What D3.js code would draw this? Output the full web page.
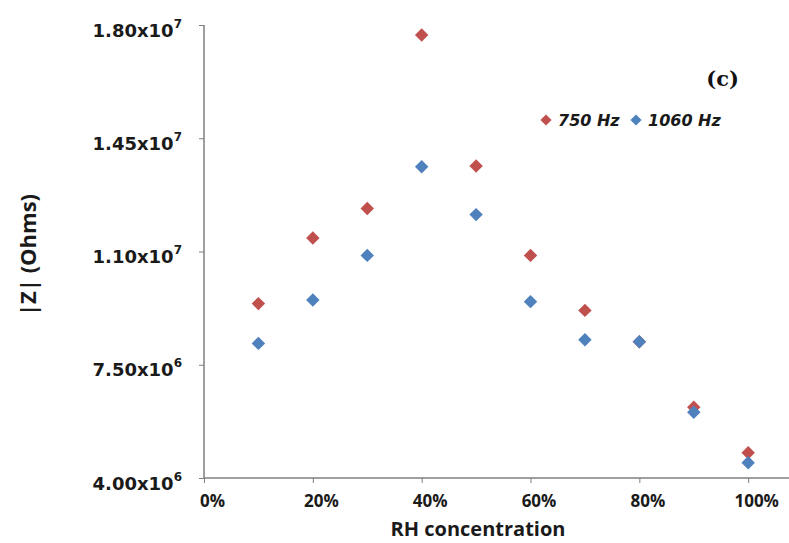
<!DOCTYPE html>
<html>
<head>
<meta charset="utf-8">
<script src="https://cdn.jsdelivr.net/npm/d3@7"></script>
<style>
  body { margin: 0; background: #fff; }
  svg { display: block; }
</style>
</head>
<body>
<div id="app"></div>
<script>
// RH concentration (fraction) and |Z| values
const rh = [0.1, 0.2, 0.3, 0.4, 0.5, 0.6, 0.7, 0.8, 0.9, 1.0];
const z750 = [9.39e6, 1.142e7, 1.233e7, 1.769e7, 1.364e7, 1.088e7, 9.18e6, 8.21e6, 6.19e6, 4.78e6];
const z1060 = [8.16e6, 9.50e6, 1.088e7, 1.362e7, 1.214e7, 9.45e6, 8.27e6, 8.21e6, 6.03e6, 4.47e6];

const seriesNames = ["750 Hz", "1060 Hz"];
const seriesColors = ["#C0504D", "#4F81BD"];

const yTicks = [4.0e6, 7.5e6, 1.1e7, 1.45e7, 1.8e7];
const xTicks = [0, 0.2, 0.4, 0.6, 0.8, 1.0];

let width = 789, height = 543;

let svg = d3.select("#app").append("svg")
  .attr("width", width).attr("height", height);

let x = d3.scaleLinear().domain([0, 1.075]).range([204, 789]);
let y = d3.scaleLinear().domain([4.0e6, 1.8e7]).range([478, 25]);

const axisColor = "#7f7f7f";
const sansBold = "'Open Sans', Lato, sans-serif";

// x axis
const xAxis = d3.axisBottom(x)
  .tickValues(xTicks)
  .tickSize(5)
  .tickFormat(d => `${Math.round(d * 100)}%`);

let gx = svg.append("g")
  .attr("transform", `translate(0, ${y.range()[0]})`)
  .call(xAxis);
gx.select(".domain").attr("stroke", axisColor).attr("stroke-width", 1.5)
  .attr("d", `M${x.range()[0]},0H${x.range()[1]}`);
gx.selectAll(".tick line").attr("stroke", axisColor);
gx.selectAll(".tick text")
  .attr("y", 17)
  .attr("dy", "0.71em")
  .attr("dx", 8)
  .style("font-family", sansBold)
  .style("font-weight", "bold")
  .style("font-size", "17px")
  .style("fill", "#1a1a1a");

// y axis
const yAxis = d3.axisLeft(y)
  .tickValues(yTicks)
  .tickSize(5)
  .tickFormat("");

let gy = svg.append("g")
  .attr("transform", `translate(${x.range()[0]}, 0)`)
  .call(yAxis);
gy.select(".domain").attr("stroke", axisColor).attr("stroke-width", 1.5)
  .attr("d", `M0,${y.range()[1]}V${y.range()[0]}`);
gy.selectAll(".tick line").attr("stroke", axisColor);

let ylab = gy.selectAll(".tick").append("text")
  .attr("x", -22)
  .attr("y", 11)
  .attr("text-anchor", "end")
  .style("font-family", "'DejaVu Sans', Verdana, sans-serif")
  .style("font-weight", "bold")
  .style("font-size", "18px")
  .style("fill", "#1a1a1a");
ylab.append("tspan").text(d => {
  const e = Math.floor(Math.log10(d));
  return (d / Math.pow(10, e)).toFixed(2) + "x10";
});
ylab.append("tspan")
  .attr("dy", -9)
  .style("font-size", "12px")
  .text(d => Math.floor(Math.log10(d)));

// axis titles
svg.append("text")
  .attr("x", 478).attr("y", 536)
  .attr("text-anchor", "middle")
  .style("font-family", sansBold)
  .style("font-weight", "bold")
  .style("font-size", "20px")
  .style("fill", "#1a1a1a")
  .text("RH concentration");

svg.append("text")
  .attr("transform", "translate(36, 255) rotate(-90)")
  .attr("text-anchor", "middle")
  .style("font-family", sansBold)
  .style("font-weight", "bold")
  .style("font-size", "22px")
  .style("fill", "#1a1a1a")
  .text("|Z| (Ohms)");

// panel label
svg.append("text")
  .attr("x", 739).attr("y", 86)
  .attr("text-anchor", "end")
  .style("font-family", "'DejaVu Serif', serif")
  .style("font-weight", "bold")
  .style("font-size", "21px")
  .style("fill", "#111")
  .text("(c)");

// markers
const diamond = d3.symbol().type(d3.symbolDiamond2).size(115);
const allSeries = [z750, z1060];

allSeries.forEach((vals, si) => {
  svg.append("g")
    .attr("class", "series")
    .selectAll("path")
    .data(vals)
    .enter()
    .append("path")
    .attr("d", diamond)
    .attr("transform", (d, i) => `translate(${x(rh[i])}, ${y(d)})`)
    .attr("fill", seriesColors[si]);
});

// legend
const legendX = [546, 636];
let legend = svg.append("g").attr("id", "legend");
seriesNames.forEach((name, i) => {
  legend.append("path")
    .attr("d", d3.symbol().type(d3.symbolDiamond2).size(80))
    .attr("transform", `translate(${legendX[i]}, 120)`)
    .attr("fill", seriesColors[i]);
  legend.append("text")
    .attr("x", legendX[i] + 12)
    .attr("y", 126)
    .style("font-family", "'DejaVu Sans', Verdana, sans-serif")
    .style("font-weight", "bold")
    .style("font-style", "italic")
    .style("font-size", "16px")
    .style("fill", "#1a1a1a")
    .text(name);
});
</script>
</body>
</html>
